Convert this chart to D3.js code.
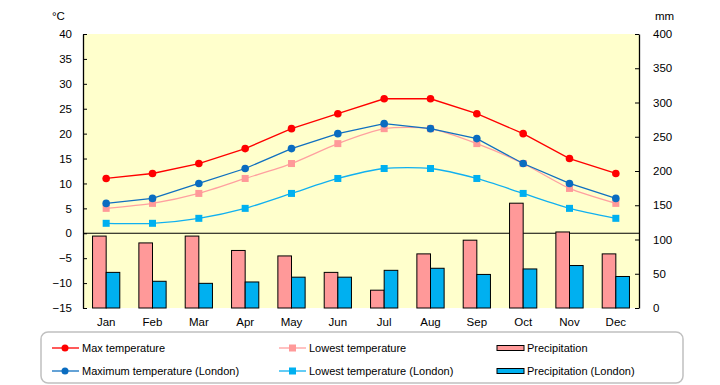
<!DOCTYPE html>
<html>
<head>
<meta charset="utf-8">
<script src="https://cdn.jsdelivr.net/npm/d3@7"></script>
<style>
  body { margin: 0; background: #fff; }
  svg text { font-family: "Liberation Sans", "DejaVu Sans", sans-serif; }
</style>
</head>
<body>
<svg id="chart" width="720" height="385"></svg>
<script>
const months = ["Jan","Feb","Mar","Apr","May","Jun","Jul","Aug","Sep","Oct","Nov","Dec"];

// temperatures (°C)
const maxTemp      = [11, 12, 14, 17, 21, 24, 27, 27, 24, 20, 15, 12];
const lowTemp      = [5, 6, 8, 11, 14, 18, 21, 21, 18, 14, 9, 6];
const maxTempLdn   = [6, 7, 10, 13, 17, 20, 22, 21, 19, 14, 10, 7];
const lowTempLdn   = [2, 2, 3, 5, 8, 11, 13, 13, 11, 8, 5, 3];

// precipitation (mm)
const precip    = [105, 95, 105, 84, 76, 52, 26, 79, 99, 153, 111, 79];
const precipLdn = [52, 39, 36, 38, 45, 45, 55, 58, 49, 57, 62, 46];

const tempTicks = d3.range(-15, 41, 5);
const mmTicks = d3.range(0, 401, 50);

const width = 720, height = 385;
const margin = {top: 34, right: 81, bottom: 77, left: 83};

const svg = d3.select("#chart");

const x = d3.scaleBand()
    .domain(months)
    .range([margin.left, width - margin.right]);

const xSub = d3.scaleBand()
    .domain(["local", "london"])
    .range([0, x.bandwidth()])
    .paddingOuter(0.7);

const yT = d3.scaleLinear().domain([-15, 40]).range([height - margin.bottom, margin.top]);
const yP = d3.scaleLinear().domain([0, 400]).range([height - margin.bottom, margin.top]);

const cx = m => x(m) + x.bandwidth() / 2;

// plot background
svg.append("rect")
    .attr("x", margin.left)
    .attr("y", margin.top)
    .attr("width", width - margin.left - margin.right)
    .attr("height", height - margin.top - margin.bottom)
    .attr("fill", "#ffffcc");

// zero line
svg.append("line")
    .attr("x1", margin.left).attr("x2", width - margin.right)
    .attr("y1", yT(0)).attr("y2", yT(0))
    .attr("stroke", "#000").attr("stroke-width", 1.2);

// bars
const barData = [
  {key: "local", vals: precip, color: "#ff9999"},
  {key: "london", vals: precipLdn, color: "#00b0f0"}
];
barData.forEach(s => {
  svg.append("g").selectAll("rect")
    .data(s.vals)
    .enter()
    .append("rect")
    .attr("x", (v, i) => x(months[i]) + xSub(s.key))
    .attr("y", v => yP(v))
    .attr("width", xSub.bandwidth())
    .attr("height", v => yP(0) - yP(v))
    .attr("fill", s.color)
    .attr("stroke", "#000")
    .attr("stroke-width", 1);
});

// lines
const lineData = [
  {vals: maxTemp, line: "#ff0000", mark: "#ff0000", shape: "circle", curve: d3.curveLinear},
  {vals: lowTemp, line: "#ffa0a0", mark: "#ff9999", shape: "square", curve: d3.curveCardinal.tension(0.3)},
  {vals: maxTempLdn, line: "#1070c0", mark: "#0a6cc0", shape: "circle", curve: d3.curveLinear},
  {vals: lowTempLdn, line: "#10b0f0", mark: "#00b0f0", shape: "square", curve: d3.curveCardinal.tension(0.3)}
];

lineData.forEach(s => {
  const line = d3.line()
    .x((v, i) => cx(months[i]))
    .y(v => yT(v))
    .curve(s.curve);
  svg.append("path")
    .datum(s.vals)
    .attr("d", line)
    .attr("fill", "none")
    .attr("stroke", s.line)
    .attr("stroke-width", 1.3);
  if (s.shape === "circle") {
    svg.append("g").selectAll("circle")
      .data(s.vals)
      .enter()
      .append("circle")
      .attr("cx", (v, i) => cx(months[i]))
      .attr("cy", v => yT(v))
      .attr("r", 3.8)
      .attr("fill", s.mark);
  } else {
    svg.append("g").selectAll("rect")
      .data(s.vals)
      .enter()
      .append("rect")
      .attr("x", (v, i) => cx(months[i]) - 3.5)
      .attr("y", v => yT(v) - 3.5)
      .attr("width", 7)
      .attr("height", 7)
      .attr("fill", s.mark);
  }
});

// axes
const leftAxis = svg.append("g")
    .attr("transform", `translate(${margin.left},0)`)
    .call(d3.axisLeft(yT).tickValues(tempTicks).tickSizeInner(-4).tickSizeOuter(0).tickPadding(11));
const rightAxis = svg.append("g")
    .attr("transform", `translate(${width - margin.right},0)`)
    .call(d3.axisRight(yP).tickValues(mmTicks).tickSizeInner(-4).tickSizeOuter(0).tickPadding(14));

[leftAxis, rightAxis].forEach(a => {
  a.select(".domain").attr("stroke", "#000").attr("stroke-width", 1.3);
  a.selectAll("line").attr("stroke", "#000");
  a.selectAll("text").attr("font-size", 11.5).attr("fill", "#000")
    .style("font-family", "'Liberation Sans', sans-serif");
});

// month labels
svg.append("g")
    .attr("transform", `translate(0,${height - margin.bottom})`)
    .call(d3.axisBottom(x).tickSize(0).tickPadding(10))
    .call(g => g.select(".domain").remove())
    .selectAll("text")
    .attr("font-size", 11.5)
    .attr("fill", "#000");

// units
svg.append("text").attr("x", 52).attr("y", 20).attr("font-size", 11.5).text("°C");
svg.append("text").attr("x", 655).attr("y", 20).attr("font-size", 11.5).text("mm");

// legend
const legend = svg.append("g");
legend.append("rect")
    .attr("x", 41).attr("y", 332)
    .attr("width", 642).attr("height", 51)
    .attr("rx", 7)
    .attr("fill", "#fff")
    .attr("stroke", "#c0c0c0")
    .attr("stroke-width", 1.5);

const legendItems = [
  {label: "Max temperature", col: 0, row: 0, s: lineData[0]},
  {label: "Maximum temperature (London)", col: 0, row: 1, s: lineData[2]},
  {label: "Lowest temperature", col: 1, row: 0, s: lineData[1]},
  {label: "Lowest temperature (London)", col: 1, row: 1, s: lineData[3]},
  {label: "Precipitation", col: 2, row: 0, b: barData[0]},
  {label: "Precipitation (London)", col: 2, row: 1, b: barData[1]}
];
const colX = [52, 279, 497];
const rowY = [348, 371];

legendItems.forEach(it => {
  const lx = colX[it.col], ly = rowY[it.row];
  const g = legend.append("g");
  if (it.s) {
    g.append("line")
      .attr("x1", lx).attr("x2", lx + 27)
      .attr("y1", ly).attr("y2", ly)
      .attr("stroke", it.s.line).attr("stroke-width", 1.3);
    if (it.s.shape === "circle") {
      g.append("circle").attr("cx", lx + 13).attr("cy", ly).attr("r", 3.5).attr("fill", it.s.mark);
    } else {
      g.append("rect").attr("x", lx + 10).attr("y", ly - 3.5).attr("width", 7).attr("height", 7).attr("fill", it.s.mark);
    }
    g.append("text")
      .attr("x", lx + 30)
      .attr("y", ly + 4)
      .attr("font-size", 11)
      .text(it.label);
  } else {
    g.append("rect")
      .attr("x", lx).attr("y", ly - 2.5)
      .attr("width", 27).attr("height", 5)
      .attr("fill", it.b.color)
      .attr("stroke", "#000").attr("stroke-width", 1);
    g.append("text")
      .attr("x", lx + 30)
      .attr("y", ly + 4)
      .attr("font-size", 11)
      .text(it.label);
  }
});
</script>
</body>
</html>
